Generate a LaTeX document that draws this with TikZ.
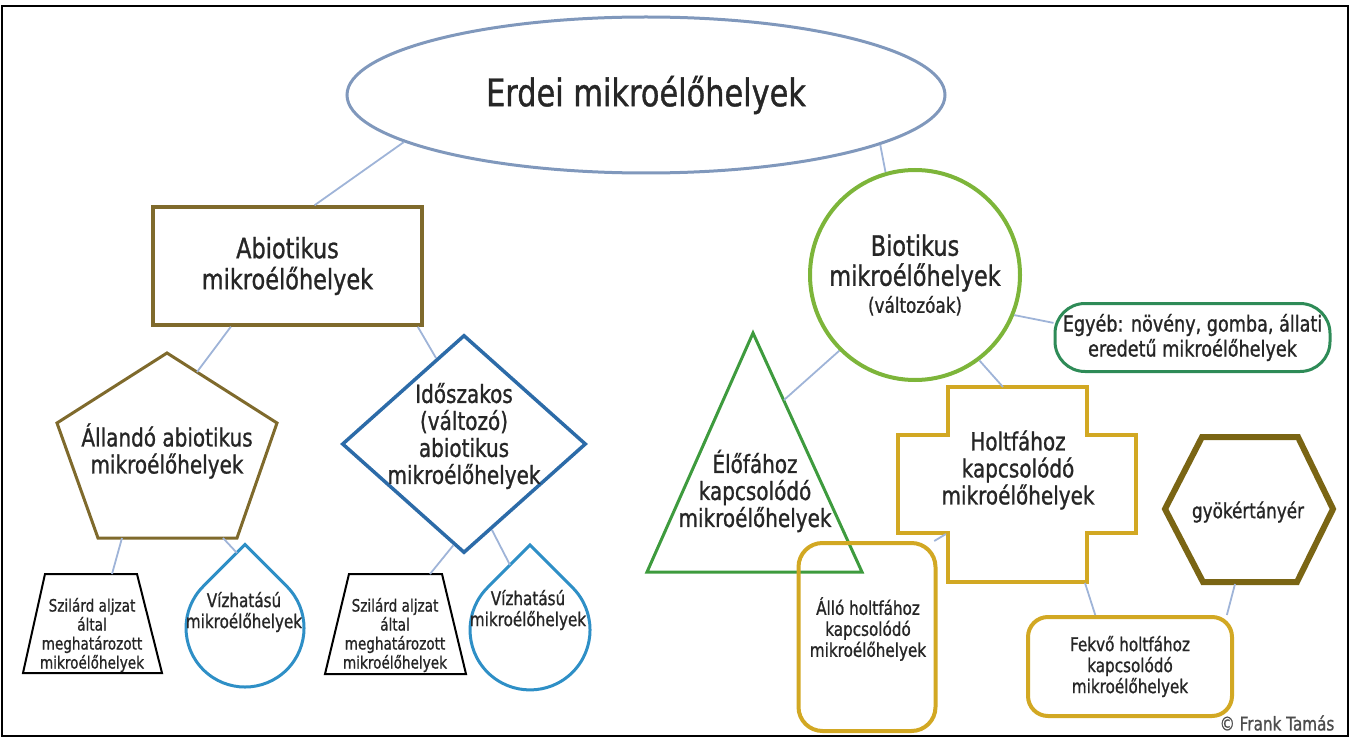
\documentclass[tikz,border=0pt]{standalone}
\usepackage{fontspec}
\setmainfont{DejaVu Sans}[FakeStretch=0.8, FakeBold=1]
\usetikzlibrary{shapes.geometric}

\definecolor{vonal}{HTML}{9FB4D8}
\definecolor{erdeikek}{HTML}{8098BC}
\definecolor{barna}{HTML}{7F6A2C}
\definecolor{kek}{HTML}{2C6BA8}
\definecolor{viz}{HTML}{2E8FC6}
\definecolor{zold}{HTML}{7DB53A}
\definecolor{sotetzold}{HTML}{2E8B57}
\definecolor{fazold}{HTML}{3E9B3E}
\definecolor{arany}{HTML}{D2A823}
\definecolor{olajbarna}{HTML}{7A6514}

\tikzset{
  kapocs/.style={draw=vonal, line width=1.8pt},
  felirat/.style={align=center, text=black!85, inner sep=0pt},
  nagy/.style={felirat, font=\fontsize{28}{31}\selectfont},
  kozep/.style={felirat, font=\fontsize{25}{27}\selectfont},
  kicsi/.style={felirat, font=\fontsize{19}{21}\selectfont},
  apro/.style={felirat, font=\fontsize{17}{19}\selectfont}
}

\begin{document}
\begin{tikzpicture}[x=1pt, y=-1pt, align=center]
    \useasboundingbox (0,0) rectangle (1352,738);
    \draw[line width=2pt] (2,6) rectangle (1348,736);

    \node [draw=erdeikek, ellipse, line width=3pt, minimum width=598pt, minimum height=156pt, felirat, font=\fontsize{38}{40}\selectfont] (erdei) at (646,95)
      {Erdei mikroélőhelyek};

    % abiotikus ag
    \node [draw=barna, rectangle, line width=3.5pt, minimum width=269pt, minimum height=118pt, nagy] (abio) at (287.5,266)
      {Abiotikus\\ mikroélőhelyek};

    \draw[draw=barna, line width=3pt] (167,353) -- (277,423) -- (237,538) -- (98,538) -- (57,423) -- cycle;
    \node [kozep] (allando) at (167,451) {Állandó abiotikus\\ mikroélőhelyek};

    \node [draw=kek, diamond, line width=3.5pt, minimum width=244pt, minimum height=218pt, inner sep=0pt] (idosz) at (464,444) {};
    \node [kozep] (idosz-sz) at (464,436) {Időszakos\\ (változó)\\ abiotikus\\ mikroélőhelyek};

    \draw[line width=2pt] (45,574) -- (137,574) -- (162,673) -- (23,673) -- cycle;
    \node [apro] (szilard1) at (92,635) {Szilárd aljzat\\ által\\ meghatározott\\ mikroélőhelyek};
    \draw[line width=2pt] (349,574) -- (442,574) -- (466,674) -- (325,674) -- cycle;
    \node [apro] (szilard2) at (395,635) {Szilárd aljzat\\ által\\ meghatározott\\ mikroélőhelyek};

    \draw[draw=viz, line width=3pt] (245,544.6) -- ++(-41.7,41.7) arc[start angle=225, end angle=-45, radius=59] -- cycle;
    \node [kicsi] (viz1) at (244,612) {Vízhatású\\ mikroélőhelyek};
    \draw[draw=viz, line width=3pt] (530,545.1) -- ++(-42.4,42.4) arc[start angle=225, end angle=-45, radius=60] -- cycle;
    \node [kicsi] (viz2) at (528,610) {Vízhatású\\ mikroélőhelyek};

    % biotikus ag
    \node [draw=zold, circle, line width=4pt, minimum size=210pt, felirat, font=\fontsize{28}{30}\selectfont] (bio) at (915,275)
      {Biotikus\\ mikroélőhelyek\\[-3pt] {\fontsize{21}{23}\selectfont (változóak)}};

    \node [draw=sotetzold, rectangle, rounded corners=30pt, line width=3pt, minimum width=275pt, minimum height=68pt, felirat, font=\fontsize{22}{25}\selectfont] (egyeb) at (1192.5,337.5)
      {Egyéb: növény, gomba, állati\\ eredetű mikroélőhelyek};

    \draw[draw=fazold, line width=3pt] (753,333) -- (862,572) -- (647,572) -- cycle;
    \node [kozep] (elo) at (755,491) {Élőfához\\ kapcsolódó\\ mikroélőhelyek};

    \draw[draw=arany, line width=4pt] (948,387) -- (1087,387) -- (1087,435) -- (1136,435) -- (1136,533) -- (1087,533) -- (1087,582) -- (948,582) -- (948,533) -- (898,533) -- (898,435) -- (948,435) -- cycle;
    \node [kozep] (holt) at (1018,470) {Holtfához\\ kapcsolódó\\ mikroélőhelyek};

    \draw[draw=olajbarna, line width=6pt] (1165,509) -- (1202,437) -- (1298,437) -- (1333,509) -- (1297,582) -- (1203,582) -- cycle;
    \node [felirat, font=\fontsize{21}{23}\selectfont] (gyoker) at (1248,512) {gyökértányér};

    \node [draw=arany, rectangle, rounded corners=24pt, line width=4pt, minimum width=137pt, minimum height=188pt] (allo) at (867,637) {};
    \node [kicsi] (allo-sz) at (868,629) {Álló holtfához\\ kapcsolódó\\ mikroélőhelyek};

    \node [draw=arany, rectangle, rounded corners=20pt, line width=4pt, minimum width=204pt, minimum height=99pt, kicsi] (fekvo) at (1130,666.5)
      {Fekvő holtfához\\ kapcsolódó\\ mikroélőhelyek};

    \node [felirat, text=black!70, font=\fontsize{19}{21}\selectfont] (szerzo) at (1277,723) {© Frank Tamás};

    % kapcsolodasi pontok
    \coordinate (allando-f) at (197,372);
    \coordinate (allando-b) at (122,538);
    \coordinate (allando-j) at (223,538);
    \coordinate (szilard1-f) at (112,574);
    \coordinate (szilard2-f) at (430,574);
    \coordinate (viz1-f) at (237,553);
    \coordinate (viz2-f) at (510,565);
    \coordinate (elo-j) at (784,400);
    \coordinate (holt-f) at (1003,387);
    \coordinate (holt-b) at (946,534);
    \coordinate (holt-l) at (1085,583);
    \coordinate (gyoker-l) at (1235,584);

    \draw[kapocs] (erdei.191) -- (abio.66);
    \draw[kapocs] (erdei.-12) -- (bio.106);
    \draw[kapocs] (abio.227) -- (allando-f);
    \draw[kapocs] (abio.-25) -- (idosz.108);
    \draw[kapocs] (allando-b) -- (szilard1-f);
    \draw[kapocs] (allando-j) -- (viz1-f);
    \draw[kapocs] (idosz.264) -- (szilard2-f);
    \draw[kapocs] (idosz.-72) -- (viz2-f);
    \draw[kapocs] (bio.225) -- (elo-j);
    \draw[kapocs] (bio.-53) -- (holt-f);
    \draw[kapocs] (bio.-22) -- (egyeb.174);
    \draw[kapocs] (holt-b) -- (allo.55);
    \draw[kapocs] (holt-l) -- (fekvo.124);
    \draw[kapocs] (gyoker-l) -- (fekvo.28);
\end{tikzpicture}
\end{document}
